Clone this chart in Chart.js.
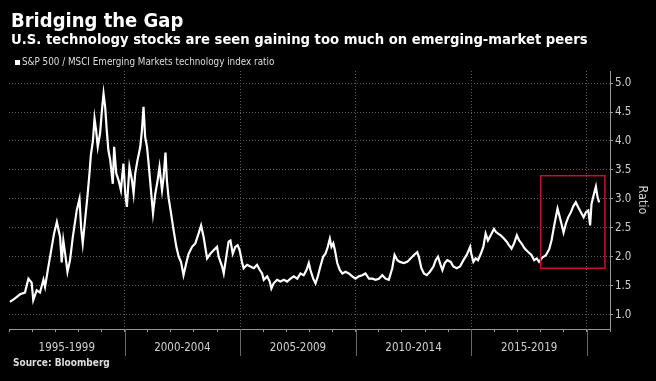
<!DOCTYPE html>
<html><head><meta charset="utf-8">
<script src="https://cdn.jsdelivr.net/npm/chart.js@4/dist/chart.umd.min.js"></script>
<style>
html,body{margin:0;padding:0;background:#000;}
#wrap{position:relative;width:656px;height:381px;background:#000;overflow:hidden;}
canvas{position:absolute;left:0;top:0;}
.t{position:absolute;white-space:nowrap;color:#fff;font-family:"DejaVu Sans Condensed","DejaVu Sans",sans-serif;font-stretch:condensed;line-height:1;}
#title{left:11px;top:10px;font-size:20px;font-weight:bold;}
#subtitle{left:11px;top:32px;font-size:14.7px;font-weight:bold;}
#legend{left:15px;top:57px;font-size:9.8px;color:#ddd;}
#legend .box{display:inline-block;width:5px;height:5px;background:#fff;margin-right:2px;vertical-align:0px;}
#source{left:13px;top:358px;font-size:10px;font-weight:bold;color:#ddd;}
</style></head>
<body>
<div id="wrap">
<canvas id="c" width="656" height="381"></canvas>
<div class="t" id="title">Bridging the Gap</div>
<div class="t" id="subtitle">U.S. technology stocks are seen gaining too much on emerging-market peers</div>
<div class="t" id="legend"><span class="box"></span>S&amp;P 500 / MSCI Emerging Markets technology index ratio</div>
<div class="t" id="source">Source: Bloomberg</div>
</div>
<script>
const seriesLabel = "S&P 500 / MSCI Emerging Markets technology index ratio";
const years = [
1995.04,1995.26,1995.48,1995.69,1995.84,1995.98,1996.05,1996.20,1996.34,1996.49,
1996.56,1996.70,1996.85,1996.95,1997.07,1997.21,1997.28,1997.35,1997.43,1997.53,
1997.64,1997.76,1997.93,1998.05,1998.12,1998.19,1998.29,1998.39,1998.48,1998.54,
1998.63,1998.70,1998.77,1998.84,1998.94,1999.02,1999.09,1999.16,1999.23,1999.30,
1999.38,1999.49,1999.55,1999.64,1999.74,1999.84,1999.95,2000.03,2000.10,2000.21,
2000.32,2000.39,2000.46,2000.56,2000.68,2000.75,2000.82,2000.89,2000.97,2001.04,
2001.14,2001.23,2001.33,2001.43,2001.51,2001.62,2001.69,2001.77,2001.83,2001.90,
2002.01,2002.12,2002.24,2002.34,2002.44,2002.55,2002.67,2002.77,2002.92,2003.06,
2003.20,2003.31,2003.42,2003.57,2003.71,2003.85,2004.00,2004.07,2004.22,2004.29,
2004.40,2004.50,2004.58,2004.68,2004.79,2004.89,2004.98,2005.08,2005.15,2005.30,
2005.44,2005.59,2005.73,2005.85,2005.95,2006.02,2006.17,2006.28,2006.35,2006.45,
2006.60,2006.74,2006.89,2007.03,2007.18,2007.32,2007.47,2007.61,2007.75,2007.87,
2007.97,2008.04,2008.16,2008.26,2008.36,2008.47,2008.59,2008.69,2008.79,2008.88,
2008.95,2009.03,2009.10,2009.20,2009.31,2009.42,2009.56,2009.70,2009.85,2009.99,
2010.13,2010.28,2010.42,2010.57,2010.72,2010.86,2011.00,2011.15,2011.29,2011.43,
2011.58,2011.68,2011.80,2011.91,2012.08,2012.23,2012.37,2012.52,2012.66,2012.73,
2012.84,2012.95,2013.07,2013.21,2013.36,2013.46,2013.56,2013.67,2013.75,2013.85,
2013.96,2014.11,2014.22,2014.37,2014.51,2014.66,2014.80,2014.95,2015.00,2015.09,
2015.19,2015.29,2015.41,2015.52,2015.62,2015.72,2015.84,2015.98,2016.06,2016.16,
2016.27,2016.42,2016.53,2016.63,2016.74,2016.85,2016.97,2017.07,2017.17,2017.31,
2017.46,2017.60,2017.72,2017.83,2017.93,2018.08,2018.22,2018.37,2018.47,2018.56,
2018.64,2018.73,2018.81,2018.90,2018.99,2019.09,2019.19,2019.31,2019.42,2019.52,
2019.62,2019.74,2019.86,2019.96,2020.06,2020.14,2020.20,2020.29,2020.39,2020.46,
2020.53
];
const ratio = [
1.22,1.28,1.35,1.38,1.62,1.55,1.25,1.42,1.38,1.60,
1.48,1.82,2.17,2.40,2.60,2.34,1.90,2.28,2.05,1.74,
1.94,2.34,2.80,3.00,2.50,2.23,2.63,3.03,3.43,3.75,
4.00,4.39,4.18,3.90,4.13,4.53,4.82,4.59,4.18,3.84,
3.67,3.26,3.90,3.44,3.32,3.15,3.61,3.09,2.86,3.55,
3.32,3.09,3.44,3.67,3.90,4.18,4.59,4.07,3.90,3.61,
3.15,2.75,3.09,3.32,3.55,3.15,3.38,3.80,3.32,3.03,
2.75,2.46,2.17,2.00,1.91,1.68,1.89,2.05,2.17,2.23,
2.40,2.54,2.34,1.97,2.05,2.11,2.17,2.00,1.83,1.71,
2.00,2.26,2.28,2.05,2.17,2.20,2.11,1.91,1.80,1.86,
1.83,1.80,1.86,1.77,1.71,1.60,1.66,1.57,1.45,1.54,
1.60,1.57,1.60,1.57,1.62,1.66,1.62,1.71,1.68,1.77,
1.89,1.77,1.62,1.54,1.66,1.83,2.00,2.05,2.17,2.31,
2.17,2.23,2.11,1.89,1.77,1.71,1.74,1.71,1.66,1.62,
1.66,1.68,1.71,1.62,1.62,1.60,1.62,1.68,1.62,1.60,
1.80,2.03,1.94,1.91,1.89,1.91,1.97,2.03,2.08,2.00,
1.80,1.71,1.68,1.74,1.83,1.94,2.00,1.86,1.77,1.89,
1.94,1.91,1.83,1.80,1.83,1.94,2.03,2.17,2.05,1.91,
1.97,1.94,2.05,2.17,2.40,2.28,2.37,2.48,2.43,2.40,
2.37,2.31,2.26,2.20,2.14,2.23,2.37,2.28,2.23,2.14,
2.08,2.03,1.94,1.97,1.91,1.99,2.02,2.13,2.28,2.48,
2.65,2.83,2.71,2.57,2.42,2.57,2.68,2.77,2.88,2.94,
2.86,2.77,2.68,2.77,2.80,2.54,2.91,3.06,3.21,3.03,
2.94
];
// period labels (5-year buckets) and y ticks
const periodStarts = [1995, 2000, 2005, 2010, 2015];
const periodLabels = ["1995-1999", "2000-2004", "2005-2009", "2010-2014", "2015-2019"];
const periodEdges = [2000, 2005, 2010, 2015, 2020];
const yTicks = [1.0, 1.5, 2.0, 2.5, 3.0, 3.5, 4.0, 4.5, 5.0];
const highlight = {x0: 2018.0, x1: 2020.78, y0: 1.8, y1: 3.4};

const FONT = "'DejaVu Sans Condensed', 'DejaVu Sans', sans-serif";
const xTickVals = [];
for (let y = 1995; y <= 2021; y++) xTickVals.push(y);
periodStarts.forEach(s => xTickVals.push(s + 2.5));
xTickVals.sort((a, b) => a - b);
const labelAt = v => { const i = periodStarts.indexOf(v - 2.5); return i >= 0 ? periodLabels[i] : ''; };

const extras = {
  id: 'extras',
  afterDatasetsDraw(chart) {
    const {ctx, scales: {x, y}} = chart;
    ctx.save();
    ctx.strokeStyle = '#c8102e';
    ctx.lineWidth = 1.5;
    const l = x.getPixelForValue(highlight.x0), r = x.getPixelForValue(highlight.x1);
    const t = y.getPixelForValue(highlight.y1), b = y.getPixelForValue(highlight.y0);
    ctx.strokeRect(l, t, r - l, b - t);
    ctx.restore();
  },
  afterDraw(chart) {
    const {ctx, scales: {x}} = chart;
    ctx.save();
    ctx.strokeStyle = '#666';
    ctx.lineWidth = 1;
    periodEdges.forEach(v => {
      const px = Math.round(x.getPixelForValue(v)) + 0.5;
      ctx.beginPath();
      ctx.moveTo(px, x.top);
      ctx.lineTo(px, x.top + 27);
      ctx.stroke();
    });
    ctx.restore();
  }
};

new Chart(document.getElementById('c'), {
  type: 'line',
  data: {
    datasets: [{
      label: seriesLabel,
      data: years.map((v, i) => ({x: v, y: ratio[i]})),
      borderColor: '#ffffff',
      borderWidth: 2.2,
      pointRadius: 0,
      tension: 0,
      fill: false
    }]
  },
  options: {
    responsive: false,
    animation: false,
    layout: {padding: {left: 9, top: 71, right: 0, bottom: 25}},
    plugins: {legend: {display: false}, title: {display: false}, tooltip: {enabled: false}},
    scales: {
      x: {
        type: 'linear', min: 1995, max: 2021, position: 'bottom',
        afterBuildTicks: s => { s.ticks = xTickVals.map(v => ({value: v})); },
        afterFit: s => { s.height = 27; },
        grid: {
          color: c => (c.tick && c.tick.value % 5 === 0 && c.tick.value > 1995 && c.tick.value < 2021) ? '#5a5a5a' : 'rgba(0,0,0,0)',
          lineWidth: 1,
          tickLength: 3,
          tickColor: c => (c.tick && Number.isInteger(c.tick.value)) ? '#999' : 'rgba(0,0,0,0)',
          tickBorderDash: []
        },
        border: {display: true, color: '#999', width: 1, dash: [1, 2]},
        ticks: {
          autoSkip: false, maxRotation: 0, minRotation: 0,
          padding: 9, color: '#d0d0d0',
          font: {family: FONT, size: 11.5},
          callback: v => labelAt(v)
        }
      },
      y: {
        type: 'linear', position: 'right', min: 0.75, max: 5.21,
        afterBuildTicks: s => { s.ticks = yTicks.map(v => ({value: v})); },
        afterFit: s => { s.width = 46; },
        grid: {color: '#5a5a5a', lineWidth: 1, tickLength: 3, tickColor: '#999', tickBorderDash: []},
        border: {display: true, color: '#999', width: 1, dash: [1, 2]},
        ticks: {
          padding: 2, color: '#d0d0d0',
          font: {family: FONT, size: 11.5},
          callback: v => Number(v).toFixed(1)
        },
        title: {display: true, text: 'Ratio', color: '#d0d0d0', font: {family: FONT, size: 12.5}, padding: {top: 6, bottom: 0}}
      }
    }
  },
  plugins: [extras]
});
</script>
</body></html>
